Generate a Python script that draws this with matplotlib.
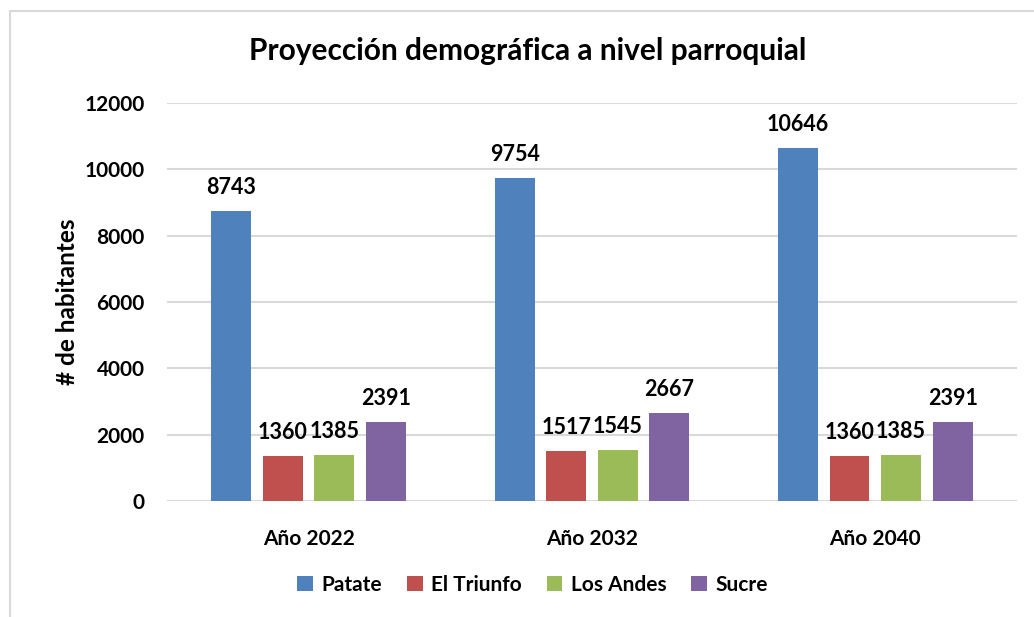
import matplotlib.pyplot as plt
import numpy as np
from matplotlib.patches import Rectangle

plt.rcParams['font.family'] = ['Lato', 'DejaVu Sans']

# Data
years = ["Año 2022", "Año 2032", "Año 2040"]
parishes = ["Patate", "El Triunfo", "Los Andes", "Sucre"]
patate = [8743, 9754, 10646]
el_triunfo = [1360, 1517, 1360]
los_andes = [1385, 1545, 1385]
sucre = [2391, 2667, 2391]
colors = ["#4F81BD", "#C0504D", "#9BBB59", "#8064A2"]

fig = plt.figure(figsize=(10.34, 6.17), dpi=100)
ax = fig.add_axes([0.1615, 0.188, 0.822, 0.645])

# Chart frame
fig.patches.append(Rectangle((10 / 1034, -0.1), 1.2, 1.1 - 11 / 617,
                             transform=fig.transFigure, fill=False,
                             edgecolor="#d9d9d9", linewidth=1.5))

x = np.arange(len(years))
width = 0.141
step = 0.182
series = [patate, el_triunfo, los_andes, sucre]
for i, (name, vals) in enumerate(zip(parishes, series)):
    pos = x + (i - 1.5) * step
    bars = ax.bar(pos, vals, width, color=colors[i], label=name, zorder=3)
    for b, v in zip(bars, vals):
        ax.text(b.get_x() + b.get_width() / 2, v + 380, str(v),
                ha="center", va="bottom", fontsize=15.5, fontweight="bold")

ax.set_xlim(-0.5, 2.5)
ax.set_ylim(0, 12000)
ax.set_yticks(range(0, 12001, 2000))
ax.set_xticks(x)
ax.set_xticklabels(years)
ax.tick_params(axis="y", length=0, labelsize=15, pad=16)
ax.tick_params(axis="x", length=0, labelsize=15, pad=20)
for lbl in ax.get_xticklabels() + ax.get_yticklabels():
    lbl.set_fontweight("bold")
ax.yaxis.grid(True, color="#d9d9d9", linewidth=1.5, zorder=0)
for s in ax.spines.values():
    s.set_visible(False)

ax.set_ylabel("# de habitantes", fontsize=17.5, fontweight="bold", labelpad=4)
fig.text(0.51, 0.918, "Proyección demográfica a nivel parroquial",
         ha="center", va="center", fontsize=21.5, fontweight="bold")

leg = ax.legend(loc="center", bbox_to_anchor=(0.43, -0.211), ncol=4,
                frameon=False, fontsize=15, handlelength=0.75,
                handleheight=0.75, columnspacing=1.2, handletextpad=0.4)
for t in leg.get_texts():
    t.set_fontweight("bold")

fig.savefig("out.png", dpi=100)
